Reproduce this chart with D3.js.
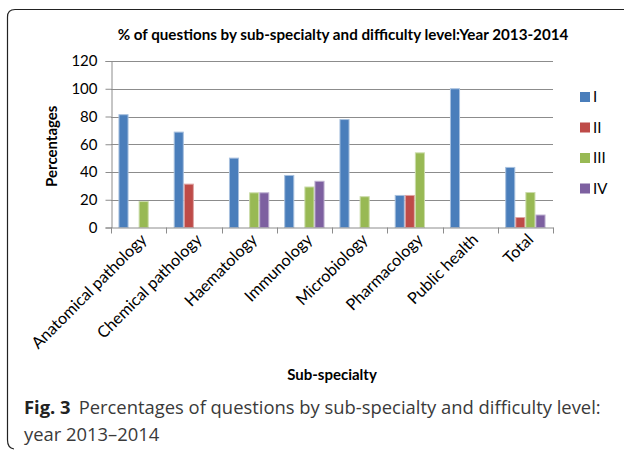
<!DOCTYPE html>
<html>
<head>
<meta charset="utf-8">
<script src="https://cdn.jsdelivr.net/npm/d3@7"></script>
<style>
    body { margin: 0; background: #fff; }
    text { font-family: Lato, "Open Sans", sans-serif; fill: #000; }
    .caption { font-family: "Open Sans", "Noto Sans", sans-serif; fill: #3a3a3a; }
</style>
</head>
<body>
<svg id="chart" width="624" height="450"></svg>
<script>
const categories = ['Anatomical pathology', 'Chemical pathology', 'Haematology', 'Immunology',
    'Microbiology', 'Pharmacology', 'Public health', 'Total'];
const levels = ['I', 'II', 'III', 'IV'];
const levelI = [81.3, 68.75, 50, 37.5, 77.8, 23.1, 100, 43.3];
const levelII = [0, 31.25, 0, 0, 0, 23.1, 0, 7.2];
const levelIII = [18.7, 0, 25, 29.2, 22.2, 53.8, 0, 25.2];
const levelIV = [0, 0, 25, 33.3, 0, 0, 0, 9];
const yTicks = [0, 20, 40, 60, 80, 100, 120];
const colors = ['#4a7ebb', '#be4b48', '#98b954', '#7d60a0'];
const edgeColors = ['#a7c0de', '#dfa5a4', '#cbdcaa', '#bdafd0'];

const seriesValues = [levelI, levelII, levelIII, levelIV];
const rows = categories.map((c, i) => ({
    name: c,
    vals: levels.map((l, j) => ({ level: l, idx: j, value: seriesValues[j][i] }))
}));

const svg = d3.select('#chart');
svg.append('rect').attr('width', 624).attr('height', 450).attr('fill', '#fff');

// frame round the figure (right and bottom sides fall off the picture)
svg.append('path')
    .attr('d', 'M7.5,440 L7.5,17 Q7.5,9.5 15,9.5 L624,9.5 M7.5,440 Q7.5,448 14,449')
    .attr('fill', 'none')
    .attr('stroke', '#222')
    .attr('stroke-width', 1.2);

const plotLeft = 111, plotRight = 553, plotTop = 61, plotBottom = 227.5;

const x0 = d3.scaleBand()
    .domain(categories)
    .range([plotLeft, plotRight])
    .paddingInner(0.27)
    .paddingOuter(0.135);
const x1 = d3.scaleBand()
    .domain(levels)
    .range([0, x0.bandwidth()]);
const y = d3.scaleLinear().domain([0, 120]).range([plotBottom, plotTop]);

// gridlines
svg.append('g')
    .selectAll('line')
    .data(yTicks.filter(d => d > 0))
    .enter()
    .append('line')
    .attr('x1', plotLeft).attr('x2', plotRight)
    .attr('y1', d => Math.round(y(d)) + 0.5).attr('y2', d => Math.round(y(d)) + 0.5)
    .attr('stroke', '#8c8c8c')
    .attr('stroke-width', 1);

// y axis
const yAxis = svg.append('g')
    .attr('transform', `translate(${plotLeft + 0.5},0)`)
    .call(d3.axisLeft(y).tickValues(yTicks).tickSize(6).tickPadding(8));
yAxis.select('.domain').attr('stroke', '#8c8c8c');
yAxis.selectAll('.tick line').attr('stroke', '#8c8c8c');
yAxis.selectAll('.tick text').attr('font-size', 15).attr('fill', '#000')
    .style('font-family', 'Lato, sans-serif');

// bars
const groups = svg.append('g')
    .selectAll('g')
    .data(rows)
    .enter()
    .append('g')
    .attr('transform', d => `translate(${x0(d.name)},0)`);

groups.selectAll('rect')
    .data(d => d.vals.filter(v => v.value > 0))
    .enter()
    .append('rect')
    .attr('x', d => x1(d.level) + 0.5)
    .attr('y', d => y(d.value))
    .attr('width', x1.bandwidth() - 1)
    .attr('height', d => y(0) - y(d.value))
    .attr('fill', d => colors[d.idx])
    .attr('stroke', d => edgeColors[d.idx])
    .attr('stroke-width', 1);

// x axis, ticks between categories
const step = x0.step();
const xAxis = svg.append('g');
xAxis.append('line')
    .attr('x1', plotLeft).attr('x2', plotRight + 0.5)
    .attr('y1', plotBottom + 0.5).attr('y2', plotBottom + 0.5)
    .attr('stroke', '#8c8c8c');
xAxis.selectAll('.sep')
    .data(d3.range(categories.length + 1))
    .enter()
    .append('line')
    .attr('x1', i => Math.round(plotLeft + i * step) + 0.5)
    .attr('x2', i => Math.round(plotLeft + i * step) + 0.5)
    .attr('y1', plotBottom).attr('y2', plotBottom + 6)
    .attr('stroke', '#8c8c8c');

xAxis.selectAll('.lab')
    .data(categories)
    .enter()
    .append('text')
    .attr('text-anchor', 'end')
    .attr('font-size', 16.2)
    .attr('transform', d => `translate(${x0(d) + x0.bandwidth() / 2 + 9},${plotBottom + 13}) rotate(-45)`)
    .text(d => d);

// titles
svg.append('text')
    .attr('x', 343).attr('y', 40)
    .attr('text-anchor', 'middle')
    .attr('font-size', 15.2)
    .attr('font-weight', 'bold')
    .text('% of questions by sub-specialty and difficulty level:Year 2013-2014');

svg.append('text')
    .attr('transform', `translate(57,${(plotTop + plotBottom) / 2 + 2}) rotate(-90)`)
    .attr('text-anchor', 'middle')
    .attr('font-size', 15)
    .attr('font-weight', 'bold')
    .text('Percentages');

svg.append('text')
    .attr('x', 332).attr('y', 380)
    .attr('text-anchor', 'middle')
    .attr('font-size', 15)
    .attr('font-weight', 'bold')
    .text('Sub-specialty');

// legend
const legend = svg.append('g')
    .selectAll('g')
    .data(levels)
    .enter()
    .append('g')
    .attr('transform', (d, i) => `translate(580,${92 + i * 30.5})`);
legend.append('rect')
    .attr('width', 10).attr('height', 10)
    .attr('fill', (d, i) => colors[i]);
legend.append('text')
    .attr('x', 13).attr('y', 10)
    .attr('font-size', 15)
    .text(d => d);

// figure caption
const cap = svg.append('text')
    .attr('class', 'caption')
    .attr('x', 24).attr('y', 414)
    .attr('font-size', 18.4);
cap.append('tspan').attr('font-weight', 'bold').attr('fill', '#222').text('Fig. 3');
cap.append('tspan').attr('dx', 8).text('Percentages of questions by sub-specialty and difficulty level:');
svg.append('text')
    .attr('class', 'caption')
    .attr('x', 24).attr('y', 441)
    .attr('font-size', 18.4)
    .text('year 2013–2014');
</script>
</body>
</html>
